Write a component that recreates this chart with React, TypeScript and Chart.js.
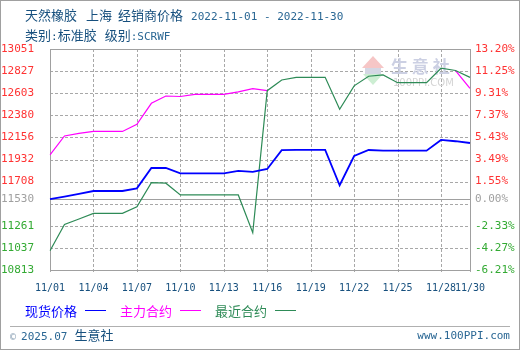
import React, { useEffect, useRef } from "react";
import { Chart, registerables } from "chart.js";

Chart.register(...registerables);

// ---------- data ----------
const days = [
  "11/01", "11/02", "11/03", "11/04", "11/05", "11/06", "11/07", "11/08", "11/09", "11/10",
  "11/11", "11/12", "11/13", "11/14", "11/15", "11/16", "11/17", "11/18", "11/19", "11/20",
  "11/21", "11/22", "11/23", "11/24", "11/25", "11/26", "11/27", "11/28", "11/29", "11/30",
];
const xTickIndexes = [0, 3, 6, 9, 12, 15, 18, 21, 24, 27, 29];

const spotPrice = [
  11530, 11557, 11585, 11613, 11613, 11613, 11640, 11846, 11846, 11792,
  11792, 11792, 11792, 11816, 11806, 11836, 12026, 12030, 12030, 12030,
  11671, 11967, 12028, 12021, 12021, 12021, 12021, 12130, 12117, 12099,
];
const mainContract = [
  11978, 12170, 12197, 12216, 12216, 12216, 12288, 12501, 12575, 12570,
  12592, 12592, 12592, 12616, 12649, 12629, 12737, 12764, 12764, 12764,
  12440, 12678, 12775, 12788, 12710, 12710, 12710, 12856, 12833, 12653,
];
const nearestContract = [
  11008, 11275, 11330, 11387, 11387, 11387, 11454, 11697, 11692, 11573,
  11573, 11573, 11573, 11573, 11191, 12629, 12737, 12764, 12764, 12764,
  12440, 12678, 12775, 12788, 12710, 12710, 12710, 12856, 12833, 12764,
];

const seriesNames = ["现货价格", "主力合约", "最近合约"];
const seriesColors = ["#0000ff", "#ff00ff", "#2e8b57"];

const baseValue = 11530;
const yMin = 10813;
const yMax = 13051;
const yTickValues = [10813, 11036.8, 11260.6, 11484.4, 11530, 11708.2, 11932, 12155.8, 12379.6, 12603.4, 12827.2, 13051];
const leftTickLabels = ["10813", "11037", "11261", "", "11530", "11708", "11932", "12156", "12380", "12603", "12827", "13051"];
const rightTickLabels = ["-6.21%", "-4.27%", "-2.33%", "", "0.00%", "1.55%", "3.49%", "5.43%", "7.37%", "9.31%", "11.25%", "13.20%"];

// ---------- styles ----------
const MONO = '"DejaVu Sans Mono", "Liberation Mono", monospace';
const CJK = '"Noto Sans CJK SC", "Noto Sans", sans-serif';
const GRID = "#a8a8a8";
const FRAME = "#a0a0a0";
const TEXT_BLUE = "#17507e";

const tickColor = (v: number) => (v > baseValue + 0.01 ? "#ff3333" : v < baseValue - 0.01 ? "#33aa33" : "#a0a0a0");

const framePlugin = {
  id: "frameGridWatermark",
  beforeDatasetsDraw(chart: any) {
    const { ctx, chartArea: a, scales } = chart;
    ctx.save();
    const L = Math.round(a.left), R = Math.round(a.right), T = Math.round(a.top), B = Math.round(a.bottom);

    // dashed grid from the scales
    ctx.fillStyle = GRID;
    for (let k = 0; k < yTickValues.length; k++) {
      const v = yTickValues[k];
      if (Math.abs(v - baseValue) < 0.01) continue;
      const yy = Math.round(scales.y.getPixelForValue(v));
      let xx = L;
      while (xx < R) {
        ctx.fillRect(xx, yy, 3, 1);
        xx += 5;
      }
    }
    xTickIndexes.forEach((i) => {
      const x = Math.round(scales.x.getPixelForValue(i));
      let y = T;
      while (y < B) {
        ctx.fillRect(x, y, 1, 3);
        y += 5;
      }
    });

    // watermark
    ctx.fillStyle = "#f6c6c6";
    ctx.beginPath();
    ctx.moveTo(362, 68);
    ctx.lineTo(373, 56);
    ctx.lineTo(384, 68);
    ctx.closePath();
    ctx.fill();
    ctx.fillStyle = "#cdeed3";
    ctx.beginPath();
    ctx.moveTo(363, 74);
    ctx.lineTo(383, 74);
    ctx.lineTo(373, 85);
    ctx.closePath();
    ctx.fill();
    ctx.fillStyle = "#d4d7e4";
    ctx.fillRect(365, 68, 16, 6);
    ctx.fillStyle = "#ccd0e3";
    ctx.font = `bold 17px ${CJK}`;
    ctx.textBaseline = "alphabetic";
    ctx.fillText("生 意 社", 391, 73);
    ctx.fillStyle = "#d4d4d4";
    ctx.font = `10px "DejaVu Sans", sans-serif`;
    ctx.fillText("100PPI.COM", 393, 86);

    // baseline and frame
    ctx.fillStyle = FRAME;
    const yb = Math.round(scales.y.getPixelForValue(baseValue));
    ctx.fillRect(L, yb, R - L, 1);
    ctx.fillRect(L, T, R - L + 1, 1);
    ctx.fillRect(L, B, R - L + 1, 1);
    ctx.fillRect(L, T, 1, B - T + 1);
    ctx.fillRect(R, T, 1, B - T + 1);
    ctx.restore();
  },
};

export default function App() {
  const ref = useRef<HTMLCanvasElement>(null);

  useEffect(() => {
    const widths = [1.8, 1.2, 1.2];
    const orders = [0, 2, 1];
    const datasets: any[] = [spotPrice, mainContract, nearestContract].map((d, i) => ({
      label: seriesNames[i],
      data: d,
      borderColor: seriesColors[i],
      backgroundColor: seriesColors[i],
      borderWidth: widths[i],
      pointRadius: 0,
      tension: 0,
      fill: false,
      order: orders[i],
      yAxisID: "y",
    }));
    // main-contract segments that coincide with the nearest contract are covered by it
    datasets[1].segment = {
      borderColor: (c: any) =>
        mainContract[c.p0DataIndex] === nearestContract[c.p0DataIndex] &&
        mainContract[c.p1DataIndex] === nearestContract[c.p1DataIndex]
          ? "rgba(0,0,0,0)"
          : undefined,
    };

    const chart = new Chart(ref.current as HTMLCanvasElement, {
      type: "line",
      data: { labels: days, datasets },
      plugins: [framePlugin],
      options: {
        responsive: false,
        animation: false,
        layout: { padding: { left: 0, right: 0, top: 49, bottom: 0 } },
        plugins: { legend: { display: false }, tooltip: { enabled: false }, title: { display: false } },
        scales: {
          x: {
            type: "category",
            offset: false,
            grid: { display: false, drawTicks: false },
            border: { display: false },
            ticks: {
              autoSkip: false,
              maxRotation: 0,
              minRotation: 0,
              padding: 12,
              color: TEXT_BLUE,
              font: { family: MONO, size: 10 },
              callback: (_v: any, i: number) => (xTickIndexes.includes(i) ? days[i] : ""),
            },
            afterFit: (s: any) => {
              s.height = 80;
            },
          },
          y: {
            type: "linear",
            position: "left",
            min: yMin,
            max: yMax,
            afterBuildTicks: (s: any) => {
              s.ticks = yTickValues.map((v) => ({ value: v }));
            },
            grid: { display: false, drawTicks: false },
            border: { display: false },
            ticks: {
              autoSkip: false,
              padding: 16,
              font: { family: MONO, size: 11 },
              color: (c: any) => tickColor(c.tick.value),
              callback: (_v: any, i: number) => leftTickLabels[i],
            },
            afterFit: (s: any) => {
              s.width = 50;
            },
          },
          y2: {
            type: "linear",
            position: "right",
            min: yMin,
            max: yMax,
            afterBuildTicks: (s: any) => {
              s.ticks = yTickValues.map((v) => ({ value: v }));
            },
            grid: { display: false, drawTicks: false },
            border: { display: false },
            ticks: {
              autoSkip: false,
              padding: 5,
              font: { family: MONO, size: 11 },
              color: (c: any) => tickColor(c.tick.value),
              callback: (_v: any, i: number) => rightTickLabels[i],
            },
            afterFit: (s: any) => {
              s.width = 50;
            },
          },
        },
      } as any,
    });
    return () => chart.destroy();
  }, []);

  const abs = (o: React.CSSProperties): React.CSSProperties => ({ position: "absolute", whiteSpace: "pre", ...o });

  return (
    <div style={{ position: "absolute", left: 0, top: 0, width: 520, height: 350, background: "#fff", overflow: "hidden" }}>
      <canvas ref={ref} width={520} height={350} style={{ position: "absolute", left: 0, top: 0, width: 520, height: 350 }} />
      {/* title */}
      <div style={abs({ left: 25, top: 7, height: 16, lineHeight: "16px", color: TEXT_BLUE })}>
        <span style={{ fontFamily: CJK, fontSize: 13 }}>天然橡胶</span>
        <span style={{ fontFamily: CJK, fontSize: 13, marginLeft: 9 }}>上海</span>
        <span style={{ fontFamily: CJK, fontSize: 13, marginLeft: 6 }}>经销商价格</span>
        <span style={{ fontFamily: MONO, fontSize: 11, marginLeft: 8, color: "#2a6794" }}>2022-11-01 - 2022-11-30</span>
      </div>
      <div style={abs({ left: 25, top: 27, height: 16, lineHeight: "16px", color: TEXT_BLUE })}>
        <span style={{ fontFamily: CJK, fontSize: 13 }}>类别</span>
        <span style={{ fontFamily: MONO, fontSize: 11 }}>:</span>
        <span style={{ fontFamily: CJK, fontSize: 13 }}>标准胶</span>
        <span style={{ fontFamily: CJK, fontSize: 13, marginLeft: 8 }}>级别</span>
        <span style={{ fontFamily: MONO, fontSize: 11, color: "#2a6794" }}>:SCRWF</span>
      </div>
      {/* legend */}
      {seriesNames.map((n, i) => (
        <React.Fragment key={n}>
          <div style={abs({ left: 25 + i * 95, top: 303, height: 16, lineHeight: "16px", fontFamily: CJK, fontSize: 13, color: seriesColors[i] })}>{n}</div>
          <div style={abs({ left: 85 + i * 95, top: 310, width: 21, height: 1, background: seriesColors[i] })} />
        </React.Fragment>
      ))}
      {/* footer */}
      <div style={abs({ left: 10, top: 326, width: 500, height: 1, background: "#b0b0b0" })} />
      <div style={abs({ left: 10, top: 327, height: 16, lineHeight: "16px", color: TEXT_BLUE })}>
        <span style={{ fontFamily: MONO, fontSize: 10, color: "#8aa0b4" }}>©</span>
        <span style={{ fontFamily: MONO, fontSize: 11, marginLeft: 5, color: "#2a6794" }}>2025.07</span>
        <span style={{ fontFamily: CJK, fontSize: 13, marginLeft: 7 }}>生意社</span>
      </div>
      <div style={abs({ right: 10, top: 328, height: 16, lineHeight: "16px", fontFamily: MONO, fontSize: 11, color: "#2a6794" })}>www.100PPI.com</div>
      <div style={abs({ left: 0, top: 0, width: 520, height: 350, border: "1px solid #a0a0a0", boxSizing: "border-box", pointerEvents: "none" })} />
    </div>
  );
}
